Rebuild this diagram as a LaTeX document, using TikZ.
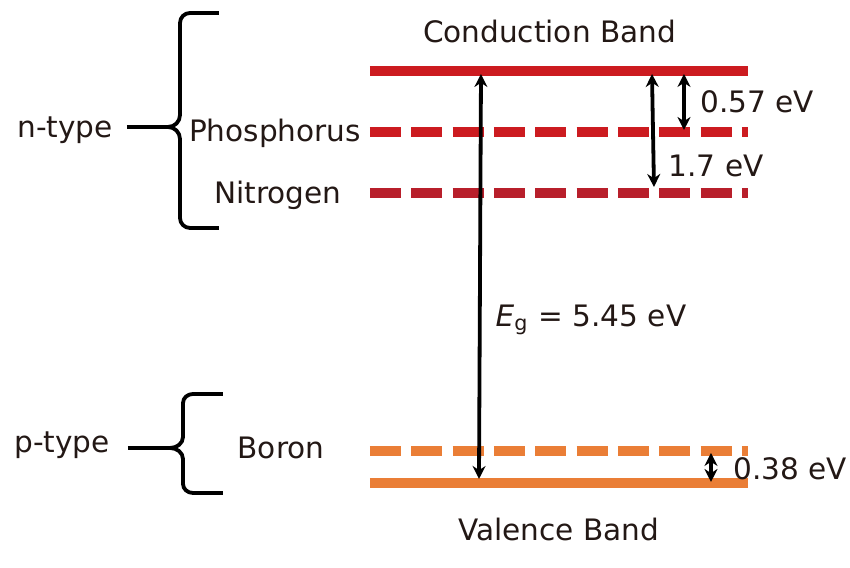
\documentclass[tikz,border=0pt]{standalone}
\usepackage{fontspec}
\setmainfont{DejaVu Sans}
\usetikzlibrary{arrows.meta,positioning}
\definecolor{cbred}{HTML}{CC1B20}
\definecolor{nitred}{HTML}{B81F2B}
\definecolor{vborange}{HTML}{EA7E36}
\definecolor{inkblack}{HTML}{231815}
\tikzset{
    %Define standard arrow tip
    >={Stealth[length=0.13cm,width=0.13cm]},
    %Define style for band edges and levels
    band/.style={
           line width=0.1cm},
    level/.style={
           line width=0.1cm,
           dash pattern=on 0.31cm off 0.103cm},
    %Define style for labels
    lbl/.style={
           text=inkblack,
           font=\fontsize{8.4}{10}\selectfont,
           inner sep=0pt,
           anchor=base},
    % Define arrow style
    pil/.style={
           <->,
           line width=0.038cm,
           draw=black},
    brace/.style={
           line width=0.038cm,
           draw=black,
           line join=round}
}
\begin{document}
\begin{tikzpicture}[x=0.01cm,y=-0.01cm]
\useasboundingbox (0,0) rectangle (850,568);
 %band edges and levels
\coordinate (cb1) at (370,71);  \coordinate (cb2) at (748,71);
\coordinate (p1) at (370,132);  \coordinate (p2) at (748,132);
\coordinate (n1) at (370,193);  \coordinate (n2) at (748,193);
\coordinate (b1) at (370,451);  \coordinate (b2) at (748,451);
\coordinate (vb1) at (370,483); \coordinate (vb2) at (748,483);

\draw[band, cbred] (cb1) -- (cb2);
\draw[level, cbred] (p1) -- (p2);
\draw[level, nitred] (n1) -- (n2);
\draw[level, vborange] (b1) -- (b2);
\draw[band, vborange] (vb1) -- (vb2);

 %labels
\node[lbl] (cond) at (549.5,43) {Conduction Band};
\node[lbl] (val) at (558.5,541) {Valence Band};
\node[lbl] (phos) at (275,142) {Phosphorus};
\node[lbl] (nitro) at (278,204) {Nitrogen};
\node[lbl] (boron) at (281,459) {Boron};
\node[lbl] (ntype) at (65,138) {n-type};
\node[lbl] (ptype) at (62,453) {p-type};
\node[lbl, anchor=base west] (e57) at (700,113) {0.57 eV};
\node[lbl, anchor=base west] (e17) at (668,177) {1.7 eV};
\node[lbl, anchor=base west] (e38) at (733,480) {0.38 eV};
\node[lbl, anchor=base west] (eg) at (495,327) {{\itshape E}\textsubscript{g} = 5.45 eV};

 %energy arrows
\coordinate (gt) at (481,74);  \coordinate (gb) at (479,479);
\coordinate (at) at (652,74);  \coordinate (ab) at (654,187);
\coordinate (pt) at (684,74);  \coordinate (pb) at (684,130);
\coordinate (bt) at (711,453); \coordinate (bb) at (711,482);
\draw[pil] (gb) -- (gt);
\draw[pil] (at) -- (ab);
\draw[pil] (pt) -- (pb);
\draw[pil] (bt) -- (bb);

 %braces
\coordinate (ntip) at (168,127);
\coordinate (ptip) at (170,448);
\draw[brace] (219,13) -- (190,13) to[out=180,in=90] (180,23) -- (180,115)
    to[out=-90,in=0] (ntip) to[out=0,in=90] (180,139) -- (180,218)
    to[out=-90,in=180] (190,228) -- (219,228);
\draw[brace] (127,127) -- (ntip);
\draw[brace] (223,394) -- (193,394) to[out=180,in=90] (183,403) -- (183,437)
    to[out=-90,in=0] (ptip) to[out=0,in=90] (183,459) -- (183,484)
    to[out=-90,in=180] (193,493) -- (223,493);
\draw[brace] (128,448) -- (ptip);

\end{tikzpicture}
\end{document}
